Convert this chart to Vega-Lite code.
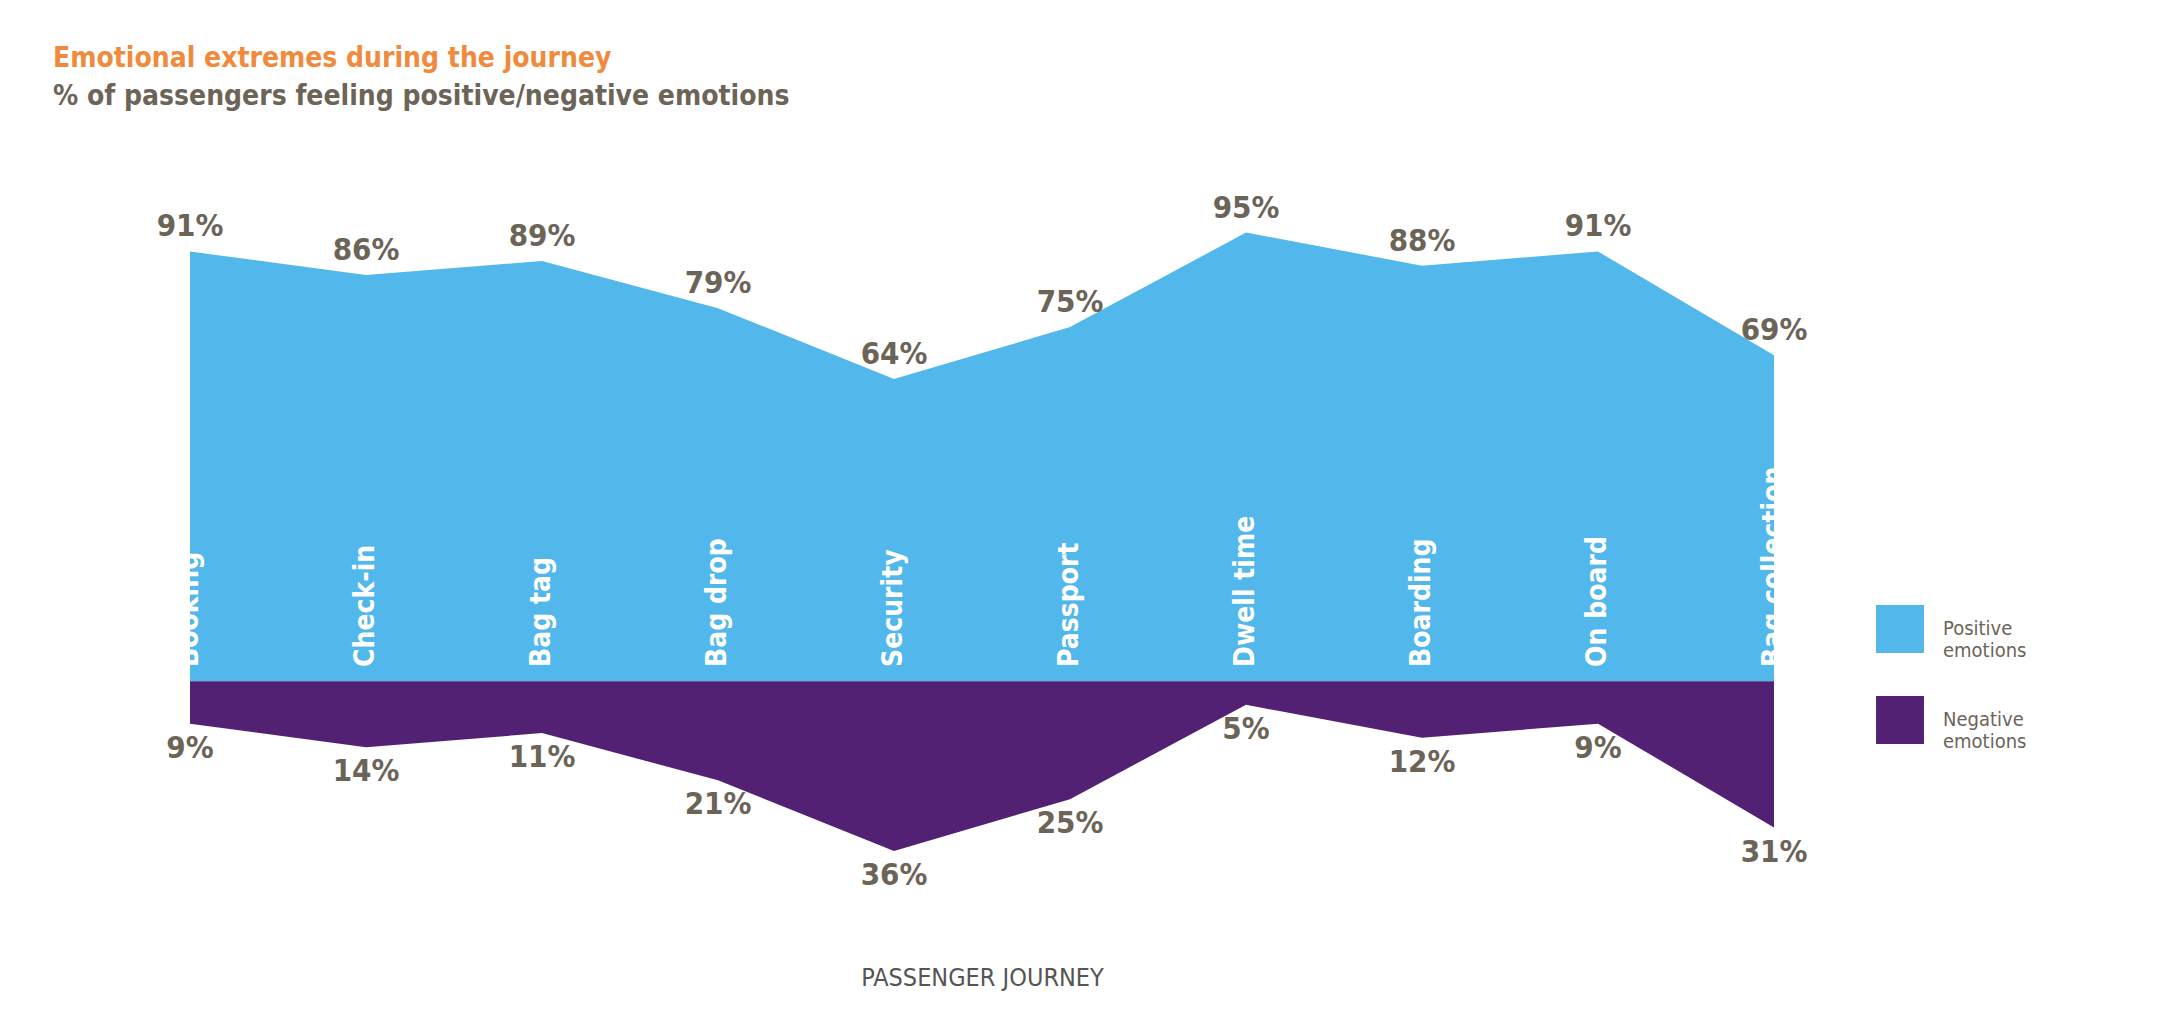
{
  "$schema": "https://vega.github.io/schema/vega-lite/v6.json",
  "autosize": {"type": "none"},
  "padding": {"left": 190, "top": 209, "right": 396, "bottom": 166},
  "width": 1584,
  "height": 661,
  "background": "white",
  "config": {"view": {"stroke": null}, "font": "DejaVu Sans Condensed"},
  "title": {
    "text": "Emotional extremes during the journey",
    "subtitle": "% of passengers feeling positive/negative emotions",
    "anchor": "start",
    "frame": "group",
    "dx": -137,
    "offset": 82,
    "font": "DejaVu Sans Condensed",
    "fontSize": 28,
    "fontWeight": "bold",
    "color": "#f08a3c",
    "subtitleFont": "DejaVu Sans Condensed",
    "subtitleFontSize": 28,
    "subtitleFontWeight": "bold",
    "subtitleColor": "#6d6458",
    "subtitlePadding": 10
  },
  "data": {
    "values": [
      {"stage": "Booking", "pos": 91, "neg": -9},
      {"stage": "Check-in", "pos": 86, "neg": -14},
      {"stage": "Bag tag", "pos": 89, "neg": -11},
      {"stage": "Bag drop", "pos": 79, "neg": -21},
      {"stage": "Security", "pos": 64, "neg": -36},
      {"stage": "Passport", "pos": 75, "neg": -25},
      {"stage": "Dwell time", "pos": 95, "neg": -5},
      {"stage": "Boarding", "pos": 88, "neg": -12},
      {"stage": "On board", "pos": 91, "neg": -9},
      {"stage": "Bag collection", "pos": 69, "neg": -31}
    ]
  },
  "transform": [
    {"calculate": "datum.pos + '%'", "as": "posLabel"},
    {"calculate": "(-datum.neg) + '%'", "as": "negLabel"},
    {"fold": ["pos", "neg"], "as": ["series", "value"]},
    {"calculate": "datum.series == 'pos' ? 'Positive emotions' : 'Negative emotions'", "as": "emotion"}
  ],
  "encoding": {
    "x": {
      "field": "stage",
      "type": "ordinal",
      "sort": ["Booking", "Check-in", "Bag tag", "Bag drop", "Security", "Passport", "Dwell time", "Boarding", "On board", "Bag collection"],
      "scale": {"type": "point", "padding": 0},
      "axis": {
        "labels": false, "ticks": false, "domain": false, "grid": false,
        "title": "PASSENGER JOURNEY", "titleFontSize": 25, "titleFontWeight": "normal",
        "titleColor": "#555555", "titlePadding": 95
      }
    }
  },
  "layer": [
    {
      "mark": {"type": "area", "interpolate": "linear"},
      "encoding": {
        "y": {"field": "value", "type": "quantitative", "scale": {"domain": [-40, 100]}, "axis": null},
        "color": {
          "field": "emotion",
          "type": "nominal",
          "scale": {"domain": ["Positive emotions", "Negative emotions"], "range": ["#52b7ea", "#522173"]},
          "legend": {
            "title": null,
            "orient": "none",
            "legendX": 1685,
            "legendY": 395,
            "symbolType": "square",
            "symbolSize": 2300,
            "symbolOpacity": 1,
            "labelFontSize": 20,
            "labelColor": "#6d6458",
            "labelOffset": 18,
            "rowPadding": 34,
            "labelExpr": "split(datum.label, ' ')"
          }
        }
      }
    },
    {
      "transform": [{"filter": "datum.series == 'pos'"}],
      "mark": {"type": "text", "baseline": "bottom", "dy": -8, "fontSize": 31, "fontWeight": "bold", "color": "#6d6458"},
      "encoding": {
        "y": {"field": "value", "type": "quantitative"},
        "text": {"field": "posLabel"}
      }
    },
    {
      "transform": [{"filter": "datum.series == 'neg'"}],
      "mark": {"type": "text", "baseline": "top", "dy": 10, "fontSize": 31, "fontWeight": "bold", "color": "#6d6458"},
      "encoding": {
        "y": {"field": "value", "type": "quantitative"},
        "text": {"field": "negLabel"}
      }
    },
    {
      "transform": [{"filter": "datum.series == 'pos'"}],
      "mark": {"type": "text", "angle": 270, "align": "left", "baseline": "middle", "fontSize": 28, "fontWeight": "bold", "color": "white"},
      "encoding": {
        "y": {"datum": 3},
        "text": {"field": "stage"}
      }
    }
  ]
}
